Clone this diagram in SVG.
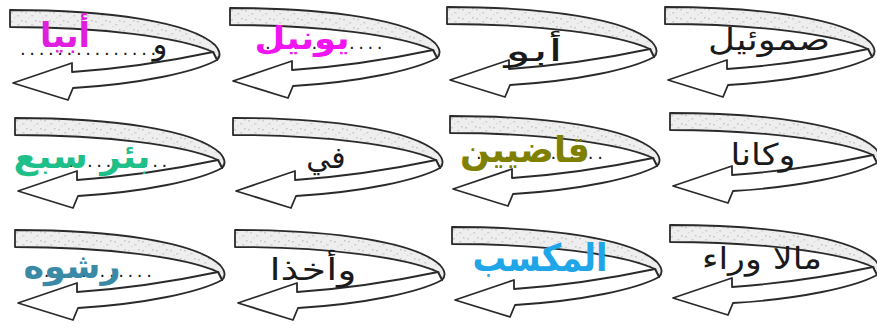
<svg xmlns="http://www.w3.org/2000/svg" width="877" height="329" viewBox="0 0 877 329">
<defs>
<pattern id="speck" width="14" height="9" patternUnits="userSpaceOnUse">
<rect width="14" height="9" fill="#eeeeee"/>
<rect x="1" y="2" width="2" height="1.5" fill="#cdcdcd"/>
<rect x="7" y="5" width="2.5" height="1.5" fill="#d3d3d3"/>
<rect x="11" y="1" width="1.5" height="1.5" fill="#c4c4c4"/>
<rect x="4" y="7" width="1.5" height="1.2" fill="#d8d8d8"/>
</pattern>
<g id="arrow">
<path class="band" d="M0,0 C100,0 180,12 205,35 Q213,44 207,50 L203,42 C170,27 90,17 0,17 Z"/>
<path class="shaft" d="M203,42 C170,49 120,58 62,62 L62,53 L3,73 L58,90 L63,78 C130,74 185,62 207,50 Z"/>
</g>
</defs>
<style>
.shaft{fill:#fff;stroke:#2a2a2a;stroke-width:1.8;stroke-linejoin:round}
.band{fill:url(#speck);stroke:#2a2a2a;stroke-width:1.8;stroke-linejoin:round}
.bt{font-family:"DejaVu Sans",sans-serif;font-size:30px;fill:#1a1a1a;text-anchor:middle;direction:rtl}
.ct{font-family:"DejaVu Sans",sans-serif;font-weight:bold;text-anchor:middle;direction:rtl}
.dots{font-family:"DejaVu Sans",sans-serif;font-size:18px;fill:#1a1a1a;letter-spacing:3.6px}
</style>
<rect width="877" height="329" fill="#fff"/>
<g id="connectors"/>
<g id="n1"><use href="#arrow" x="10" y="10"/><text class="dots" x="20" y="55">...............</text><text class="bt" x="160" y="54" font-size="24" textLength="15" lengthAdjust="spacingAndGlyphs">و</text><text class="ct" x="65" y="47" font-size="34" fill="#e01ee0" textLength="50" lengthAdjust="spacingAndGlyphs">أبيا</text></g>
<g id="n2"><use href="#arrow" x="230" y="8"/><text class="dots" x="265" y="49">.............</text><text class="ct" x="302" y="49" font-size="32" fill="#f014f0" textLength="95" lengthAdjust="spacingAndGlyphs">يونيل</text></g>
<g id="n3"><use href="#arrow" x="447" y="7"/><text class="bt" x="534" y="61" textLength="58" lengthAdjust="spacingAndGlyphs">أبو</text></g>
<g id="n4"><use href="#arrow" x="665" y="7"/><text class="bt" x="769" y="50" textLength="122" lengthAdjust="spacingAndGlyphs">صموئيل</text></g>
<g id="n5"><use href="#arrow" x="15" y="118"/><text class="dots" x="31" y="167">...............</text><text class="ct" x="82" y="168" font-size="34" fill="#1fbf8a" textLength="137" lengthAdjust="spacingAndGlyphs">بئر سبع</text></g>
<g id="n6"><use href="#arrow" x="233" y="118"/><text class="bt" x="326" y="168" font-size="28">في</text></g>
<g id="n7"><use href="#arrow" x="450" y="116"/><text class="dots" x="476" y="159">..............</text><text class="ct" x="525" y="162" font-size="36" fill="#808000" textLength="130" lengthAdjust="spacingAndGlyphs">قاضيين</text></g>
<g id="n8"><use href="#arrow" x="670" y="113"/><text class="bt" x="763" y="165" textLength="65" lengthAdjust="spacingAndGlyphs">وكانا</text></g>
<g id="n9"><use href="#arrow" x="15" y="230"/><text class="dots" x="25" y="277">..............</text><text class="ct" x="72" y="278" font-size="34" fill="#3a8aa6" textLength="97" lengthAdjust="spacingAndGlyphs">رشوه</text></g>
<g id="n10"><use href="#arrow" x="235" y="230"/><text class="bt" x="313" y="280" textLength="87" lengthAdjust="spacingAndGlyphs">وأخذا</text></g>
<g id="n11"><use href="#arrow" x="452" y="227"/><text class="ct" x="540" y="271" font-size="38" fill="#1ea6e8" textLength="135" lengthAdjust="spacingAndGlyphs">المكسب</text></g>
<g id="n12"><use href="#arrow" x="670" y="225"/><text class="bt" x="762" y="269" font-size="28" textLength="120" lengthAdjust="spacingAndGlyphs">مالا وراء</text></g>
</svg>
